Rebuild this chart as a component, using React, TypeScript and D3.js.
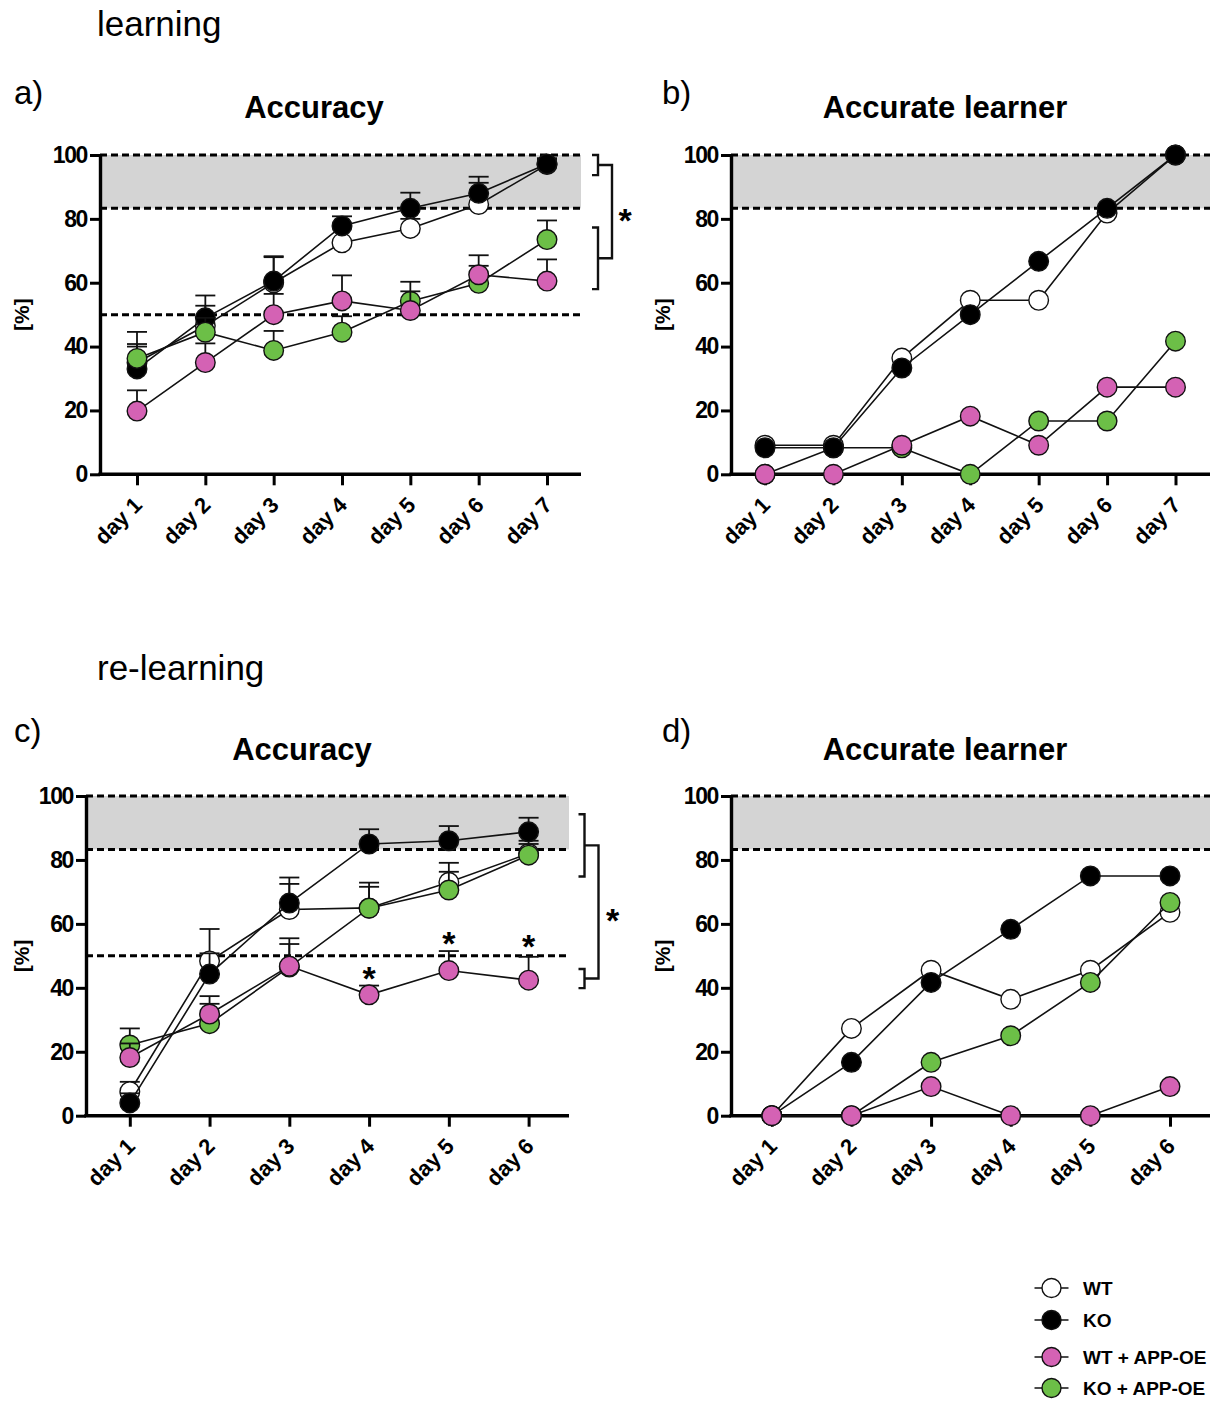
import React, { useEffect, useRef } from 'react';
import * as d3 from 'd3';

// categories
const days7 = ['day 1', 'day 2', 'day 3', 'day 4', 'day 5', 'day 6', 'day 7'];
const days6 = ['day 1', 'day 2', 'day 3', 'day 4', 'day 5', 'day 6'];
const groupNames = ['WT', 'KO', 'WT + APP-OE', 'KO + APP-OE'];
const yTicks = [0, 20, 40, 60, 80, 100];

// learning - accuracy (mean, upper SEM)
const learnAccWT = [35, 46.5, 60, 72.5, 77, 84.5, 97];
const learnAccWTErr = [5, 6.3, 8, 5.5, 3, 6.8, 2];
const learnAccKO = [33, 49, 60.5, 77.8, 83.3, 88, 97.2];
const learnAccKOErr = [7.8, 7, 7.8, 3, 4.9, 5.2, 1.5];
const learnAccWTApp = [19.8, 35, 50, 54.3, 51.3, 62.5, 60.5];
const learnAccWTAppErr = [6.5, 6, 6.5, 8, 6, 2.8, 6.8];
const learnAccKOApp = [36.3, 44.5, 38.8, 44.5, 54.2, 59.8, 73.5];
const learnAccKOAppErr = [8.3, 4.5, 6.1, 5, 6.1, 8.8, 6];

// learning - accurate learner
const learnLrnWT = [9.1, 9.1, 36.4, 54.5, 54.5, 81.8, 100];
const learnLrnKO = [8.3, 8.3, 33.3, 50, 66.7, 83.3, 100];
const learnLrnWTApp = [0, 0, 9.1, 18.2, 9.1, 27.3, 27.3];
const learnLrnKOApp = [0, 8.3, 8.3, 0, 16.7, 16.7, 41.7];

// re-learning - accuracy
const relearnAccWT = [7.5, 48.4, 64.5, 65, 73, 82];
const relearnAccWTErr = [3.1, 10, 8, 6.6, 6.1, 4];
const relearnAccKO = [4, 44.3, 66.5, 85, 86, 88.8];
const relearnAccKOErr = [3, 6.5, 8, 4.6, 4.6, 4.4];
const relearnAccWTApp = [18.2, 31.8, 46.8, 37.8, 45.4, 42.4];
const relearnAccWTAppErr = [4.4, 5.6, 8.7, 2.9, 6.1, 7.3];
const relearnAccKOApp = [22.1, 28.8, 46.5, 64.9, 70.6, 81.5];
const relearnAccKOAppErr = [5.2, 6.2, 7.2, 8, 5.7, 3.5];

// re-learning - accurate learner
const relearnLrnWT = [0, 27.3, 45.5, 36.4, 45.5, 63.6];
const relearnLrnKO = [0, 16.7, 41.7, 58.3, 75, 75];
const relearnLrnWTApp = [0, 0, 9.1, 0, 0, 9.1];
const relearnLrnKOApp = [0, 0, 16.7, 25, 41.7, 66.7];

// criterion band and chance line
const bandLow = 83.3;
const chanceLevel = 50;

// significance marks
const learnBracketUpper = [93.7, 100];
const learnBracketLower = [58, 77.3];
const relearnBracketUpper = [74.8, 94.3];
const relearnBracketLower = [39.9, 45.9];
const relearnStarDays = ['day 4', 'day 5', 'day 6'];
const relearnStarValues = [45.5, 56.5, 55.5];

const FONT = '"Liberation Sans", Arial, Helvetica, sans-serif';
const fills = ['#ffffff', '#000000', '#d462b4', '#6cbf47'];

interface PanelCfg {
  days: string[];
  values: number[][];
  errors?: number[][];
  order: number[];
  axisX: number; xEnd: number; firstX: number; lastX: number;
  top: number; bottom: number;
  title: string; titleX: number; titleY: number;
  letter: string; letterX: number; letterY: number;
  ylabelX: number;
  chance?: boolean;
  brackets?: { upper: number[]; lower: number[]; innerX: number; outerX: number; starX: number };
  stars?: { days: string[]; values: number[] };
}

const App: React.FC = () => {
  const svgRef = useRef<SVGSVGElement>(null);

  useEffect(() => {
    if (!svgRef.current) return;
    const svg = d3.select(svgRef.current);
    svg.selectAll('*').remove();

    const panels: PanelCfg[] = [
      {
        days: days7,
        values: [learnAccWT, learnAccKO, learnAccWTApp, learnAccKOApp],
        errors: [learnAccWTErr, learnAccKOErr, learnAccWTAppErr, learnAccKOAppErr],
        order: [0, 1, 3, 2],
        axisX: 100, xEnd: 581, firstX: 137, lastX: 547, top: 155, bottom: 474.3,
        title: 'Accuracy', titleX: 314, titleY: 118, letter: 'a)', letterX: 14, letterY: 104,
        ylabelX: 21, chance: true,
        brackets: { upper: learnBracketUpper, lower: learnBracketLower, innerX: 598, outerX: 612, starX: 625 },
      },
      {
        days: days7,
        values: [learnLrnWT, learnLrnKO, learnLrnWTApp, learnLrnKOApp],
        order: [3, 0, 1, 2],
        axisX: 731, xEnd: 1210, firstX: 765, lastX: 1175.5, top: 155, bottom: 474.3,
        title: 'Accurate learner', titleX: 945, titleY: 118, letter: 'b)', letterX: 662, letterY: 104,
        ylabelX: 662,
      },
      {
        days: days6,
        values: [relearnAccWT, relearnAccKO, relearnAccWTApp, relearnAccKOApp],
        errors: [relearnAccWTErr, relearnAccKOErr, relearnAccWTAppErr, relearnAccKOAppErr],
        order: [0, 1, 3, 2],
        axisX: 86, xEnd: 569, firstX: 129.8, lastX: 528.6, top: 796, bottom: 1115.7,
        title: 'Accuracy', titleX: 302, titleY: 760, letter: 'c)', letterX: 14, letterY: 742,
        ylabelX: 21, chance: true,
        brackets: { upper: relearnBracketUpper, lower: relearnBracketLower, innerX: 584.5, outerX: 598.5, starX: 612.7 },
        stars: { days: relearnStarDays, values: relearnStarValues },
      },
      {
        days: days6,
        values: [relearnLrnWT, relearnLrnKO, relearnLrnWTApp, relearnLrnKOApp],
        order: [0, 1, 3, 2],
        axisX: 731, xEnd: 1210, firstX: 771.8, lastX: 1170, top: 796, bottom: 1115.7,
        title: 'Accurate learner', titleX: 945, titleY: 760, letter: 'd)', letterX: 662, letterY: 742,
        ylabelX: 662,
      },
    ];

    // section headings
    svg.append('text').attr('x', 97).attr('y', 36)
      .style('font-family', FONT).style('font-size', '35px').text('learning');
    svg.append('text').attr('x', 97).attr('y', 680)
      .style('font-family', FONT).style('font-size', '35px').text('re-learning');

    panels.forEach(p => {
      const g = svg.append('g');
      const x = d3.scalePoint<string>().domain(p.days).range([p.firstX, p.lastX]);
      const y = d3.scaleLinear().domain([0, 100]).range([p.bottom, p.top]);

      // letter + title
      g.append('text').attr('x', p.letterX).attr('y', p.letterY)
        .style('font-family', FONT).style('font-size', '33px').text(p.letter);
      g.append('text').attr('x', p.titleX).attr('y', p.titleY)
        .attr('text-anchor', 'middle')
        .style('font-family', FONT).style('font-size', '31px').style('font-weight', 'bold')
        .text(p.title);

      // criterion band
      g.append('rect')
        .attr('x', p.axisX).attr('y', y(100))
        .attr('width', p.xEnd - p.axisX).attr('height', y(bandLow) - y(100))
        .attr('fill', '#d4d4d4');

      const dashed = [100, bandLow].concat(p.chance ? [chanceLevel] : []);
      dashed.forEach(v => {
        g.append('line')
          .attr('x1', p.axisX).attr('x2', p.xEnd)
          .attr('y1', y(v)).attr('y2', y(v))
          .attr('stroke', '#000').attr('stroke-width', 3)
          .attr('stroke-dasharray', '7,4');
      });

      // y axis
      const yAxis = g.append('g')
        .attr('transform', `translate(${p.axisX},0)`)
        .call(d3.axisLeft(y).tickValues(yTicks).tickSize(10).tickSizeOuter(0).tickPadding(3));
      yAxis.select('.domain').attr('stroke-width', 3.4);
      yAxis.selectAll('.tick line').attr('stroke-width', 3);
      yAxis.selectAll('.tick text')
        .style('font-family', FONT).style('font-size', '23px').style('font-weight', 'bold')
        .style('letter-spacing', '-1.4px')
        .attr('fill', '#000');

      // x axis
      g.append('line')
        .attr('x1', p.axisX - 1.7).attr('x2', p.xEnd)
        .attr('y1', p.bottom).attr('y2', p.bottom)
        .attr('stroke', '#000').attr('stroke-width', 3.4);
      const xAxis = g.append('g')
        .attr('transform', `translate(0,${p.bottom})`)
        .call(d3.axisBottom(x).tickSize(11).tickSizeOuter(0));
      xAxis.select('.domain').remove();
      xAxis.selectAll('.tick line').attr('stroke-width', 3);
      xAxis.selectAll('.tick text')
        .attr('x', 0).attr('y', 0).attr('dy', 0)
        .attr('transform', 'translate(6,32) rotate(-45)')
        .style('text-anchor', 'end')
        .style('font-family', FONT).style('font-size', '22px').style('font-weight', 'bold')
        .attr('fill', '#000');

      // y label
      g.append('text')
        .attr('transform', `translate(${p.ylabelX},${(p.top + p.bottom) / 2}) rotate(-90)`)
        .attr('text-anchor', 'middle').attr('dominant-baseline', 'central')
        .style('font-family', FONT).style('font-size', '21px').style('font-weight', 'bold')
        .text('[%]');

      // series
      const line = d3.line<number>()
        .x((_, i) => x(p.days[i]) as number)
        .y(v => y(v));

      p.order.forEach(si => {
        const vals = p.values[si];
        const sg = g.append('g');
        sg.append('path')
          .attr('d', line(vals))
          .attr('fill', 'none').attr('stroke', '#111').attr('stroke-width', 1.6);
        if (p.errors) {
          const errs = p.errors[si];
          vals.forEach((v, i) => {
            const cx = x(p.days[i]) as number;
            sg.append('line')
              .attr('x1', cx).attr('x2', cx).attr('y1', y(v)).attr('y2', y(v + errs[i]))
              .attr('stroke', '#111').attr('stroke-width', 1.8);
            sg.append('line')
              .attr('x1', cx - 10).attr('x2', cx + 10).attr('y1', y(v + errs[i])).attr('y2', y(v + errs[i]))
              .attr('stroke', '#111').attr('stroke-width', 1.8);
          });
        }
        sg.selectAll('circle')
          .data(vals)
          .enter().append('circle')
          .attr('cx', (_, i) => x(p.days[i]) as number)
          .attr('cy', v => y(v))
          .attr('r', 9.8)
          .attr('fill', fills[si])
          .attr('stroke', '#111').attr('stroke-width', 1.4);
      });

      // significance brackets
      if (p.brackets) {
        const b = p.brackets;
        const arm = 6;
        const bracket = (lo: number, hi: number, xv: number, w: number) => {
          g.append('path')
            .attr('d', `M${xv - w},${y(hi)}H${xv}V${y(lo)}H${xv - w}`)
            .attr('fill', 'none').attr('stroke', '#111').attr('stroke-width', 2.4);
        };
        bracket(b.upper[0], b.upper[1], b.innerX, arm);
        bracket(b.lower[0], b.lower[1], b.innerX, arm);
        const midU = (b.upper[0] + b.upper[1]) / 2;
        const midL = (b.lower[0] + b.lower[1]) / 2;
        bracket(midL, midU, b.outerX, b.outerX - b.innerX);
        g.append('text')
          .attr('x', b.starX).attr('y', y((midU + midL) / 2) + 20)
          .attr('text-anchor', 'middle')
          .style('font-family', FONT).style('font-size', '34px').style('font-weight', 'bold')
          .text('*');
      }

      if (p.stars) {
        p.stars.days.forEach((d, i) => {
          g.append('text')
            .attr('x', x(d) as number).attr('y', y(p.stars!.values[i]) + 20)
            .attr('text-anchor', 'middle')
            .style('font-family', FONT).style('font-size', '34px').style('font-weight', 'bold')
            .text('*');
        });
      }
    });

    // legend
    const legend = svg.append('g').attr('transform', 'translate(1051.5,1288)');
    const rowY = [0, 32, 69, 100];
    groupNames.forEach((name, i) => {
      const row = legend.append('g').attr('transform', `translate(0,${rowY[i]})`);
      row.append('line').attr('x1', -17).attr('x2', 17).attr('y1', 0).attr('y2', 0)
        .attr('stroke', '#111').attr('stroke-width', 1.4);
      row.append('circle').attr('r', 9.5).attr('fill', fills[i])
        .attr('stroke', '#111').attr('stroke-width', 1.4);
      row.append('text').attr('x', 31.5).attr('y', 0).attr('dy', '0.36em')
        .style('font-family', FONT).style('font-size', '19px').style('font-weight', 'bold')
        .text(name);
    });
  }, []);

  return (
    <svg
      ref={svgRef}
      width={1217}
      height={1401}
      style={{ position: 'absolute', left: 0, top: 0, background: '#fff' }}
    />
  );
};

export default App;
